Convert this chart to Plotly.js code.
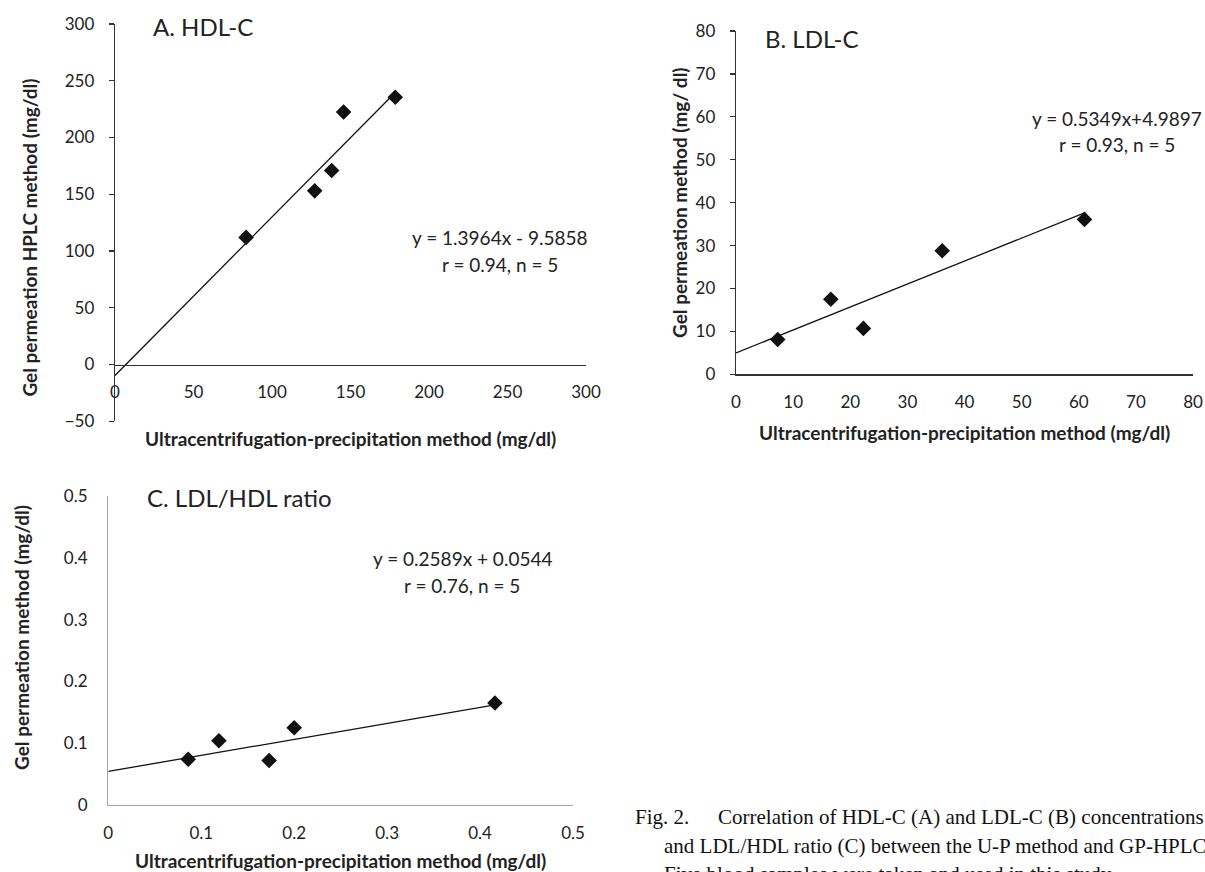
<!DOCTYPE html>
<html><head><meta charset="utf-8">
<script src="https://cdn.plot.ly/plotly-3.0.1.min.js"></script>
<style>html,body{margin:0;padding:0;background:#fff}#chart{width:1205px;height:872px}</style>
</head><body><div id="chart"></div>
<script>
// ---- data ----
const hdlUP = [83.5, 127.2, 138.0, 145.6, 178.5];
const hdlGP = [112.0, 153.0, 171.0, 222.5, 235.5];
const hdlFit = [1.3964, -9.5858];

const ldlUP = [7.3, 16.6, 22.3, 36.1, 61.0];
const ldlGP = [8.1, 17.5, 10.7, 28.8, 36.1];
const ldlFit = [0.5349, 4.9897];

const ratioUP = [0.086, 0.119, 0.173, 0.200, 0.416];
const ratioGP = [0.074, 0.104, 0.072, 0.125, 0.165];
const ratioFit = [0.2589, 0.0544];

const panelTitles = ["A. HDL-C", "B. LDL-C", "C. LDL/HDL ratio"];
const eqLines = [
  ["y = 1.3964x - 9.5858", "r = 0.94, n = 5"],
  ["y = 0.5349x+4.9897", "r = 0.93, n = 5"],
  ["y = 0.2589x + 0.0544", "r = 0.76, n = 5"]
];
const xTitle = "Ultracentrifugation-precipitation method (mg/dl)";
const yTitles = ["Gel permeation HPLC method (mg/dl)", "Gel permeation method (mg/ dl)", "Gel permeation method (mg/dl)"];
const captionLabel = "Fig. 2.";
const captionLines = [
  "Correlation of HDL-C (A) and LDL-C (B) concentrations",
  "and LDL/HDL ratio (C) between the U-P method and GP-HPLC.",
  "Five blood samples were taken and used in this study."
];

// ---- layout helpers ----
const W = 1205, H = 872;
const fx = p => p / W;
const fy = p => 1 - p / H;
const FONT = "Lato, 'Open Sans', sans-serif";
const INK = "#222";

function fitLine(xs, coef) {
  const x = [0, Math.max(...xs)];
  return {x, y: x.map(v => coef[0] * v + coef[1])};
}

const traces = [];
function addPanel(xs, ys, coef, xa, ya) {
  const f = fitLine(xs, coef);
  traces.push({type: "scatter", mode: "lines", x: f.x, y: f.y, xaxis: xa, yaxis: ya,
    line: {color: "#111", width: 1.3}, hoverinfo: "skip"});
  traces.push({type: "scatter", mode: "markers", x: xs, y: ys, xaxis: xa, yaxis: ya,
    marker: {symbol: "diamond", size: 12, color: "#111"}});
}
addPanel(hdlUP, hdlGP, hdlFit, "x", "y");
addPanel(ldlUP, ldlGP, ldlFit, "x2", "y2");
addPanel(ratioUP, ratioGP, ratioFit, "x3", "y3");

const tickFont = {family: FONT, size: 17, color: INK};
function yAxis(range, dtick, dom, anchor, lineColor, ticks) {
  return {range, dtick, tick0: 0, domain: dom, anchor,
    showgrid: false, zeroline: false, showline: true, linecolor: lineColor, linewidth: 1.3,
    ticks: ticks ? "outside" : "", ticklen: 5, tickcolor: lineColor, tickwidth: 1.3,
    ticklabelstandoff: ticks ? 11 : 16, tickfont: tickFont, fixedrange: true};
}
function xAxis(range, dtick, dom, anchor, lineColor, extra) {
  return Object.assign({range, dtick, tick0: 0, domain: dom, anchor,
    showgrid: false, zeroline: false, showline: true, linecolor: lineColor, linewidth: 1.3,
    ticks: "", ticklabelstandoff: 12, tickfont: tickFont, fixedrange: true}, extra || {});
}

// panel geometry (pixels)
const A = {l: 115, r: 586, t: 24, b: 421.3}, B = {l: 736, r: 1193, t: 31, b: 374.3}, C = {l: 108.3, r: 573, t: 496, b: 805};
const yA = [-50, 300], yAdom = [fy(A.b), fy(A.t)];
const zeroPos = yAdom[0] + (0 - yA[0]) / (yA[1] - yA[0]) * (yAdom[1] - yAdom[0]);

const layout = {
  width: W, height: H, margin: {l: 0, r: 0, t: 0, b: 0},
  paper_bgcolor: "#fff", plot_bgcolor: "rgba(0,0,0,0)", showlegend: false,
  xaxis: xAxis([0, 300], 50, [fx(A.l), fx(A.r)], "free", "#333", {position: zeroPos}),
  yaxis: yAxis(yA, 50, yAdom, "x", "#333", true),
  xaxis2: xAxis([0, 80], 10, [fx(B.l), fx(B.r)], "y2", "#333"),
  yaxis2: yAxis([0, 80], 10, [fy(B.b), fy(B.t)], "x2", "#333", true),
  xaxis3: xAxis([0, 0.5], 0.1, [fx(C.l), fx(C.r)], "y3", "#a6a6a6"),
  yaxis3: yAxis([0, 0.5], 0.1, [fy(C.b), fy(C.t)], "x3", "#a6a6a6", false),
  annotations: []
};

function ann(text, px, py, opts) {
  layout.annotations.push(Object.assign({text, xref: "paper", yref: "paper", x: fx(px), y: fy(py),
    xanchor: "center", yanchor: "middle", showarrow: false,
    font: {family: FONT, size: 17, color: INK}}, opts || {}));
}
const titleFont = {family: FONT, size: 24, color: INK};
ann(panelTitles[0], 150.7, 27, {xanchor: "left", font: titleFont});
ann(panelTitles[1], 762.7, 39, {xanchor: "left", font: titleFont});
ann(panelTitles[2], 145.4, 497, {xanchor: "left", font: titleFont});

const eqFont = {family: FONT, size: 19, color: INK};
ann(eqLines[0][0], 500, 238, {font: eqFont});
ann(eqLines[0][1], 500, 265, {font: eqFont});
ann(eqLines[1][0], 1117, 118, {font: eqFont});
ann(eqLines[1][1], 1117, 145, {font: eqFont});
ann(eqLines[2][0], 462, 558, {font: eqFont});
ann(eqLines[2][1], 462, 585, {font: eqFont});

const axFont = {family: FONT, size: 19, color: INK, weight: "bold"};
ann(xTitle, (A.l + A.r) / 2, 438, {font: axFont});
ann(xTitle, (B.l + B.r) / 2, 432, {font: axFont});
ann(xTitle, (C.l + C.r) / 2, 860, {font: axFont});
ann(yTitles[0], 29.6, 238, {font: axFont, textangle: -90});
ann(yTitles[1], 680, 203, {font: axFont, textangle: -90});
ann(yTitles[2], 21, 638, {font: axFont, textangle: -90});

const capFont = {family: "'Liberation Serif', 'Times New Roman', serif", size: 21, color: "#111"};
ann(captionLabel, 633, 817, {xanchor: "left", font: capFont});
ann(captionLines[0], 716, 817, {xanchor: "left", font: capFont});
ann(captionLines[1], 662, 846, {xanchor: "left", font: capFont});
ann(captionLines[2], 662, 874, {xanchor: "left", font: capFont});

Plotly.newPlot("chart", traces, layout, {staticPlot: true, displayModeBar: false});
</script>
</body></html>
